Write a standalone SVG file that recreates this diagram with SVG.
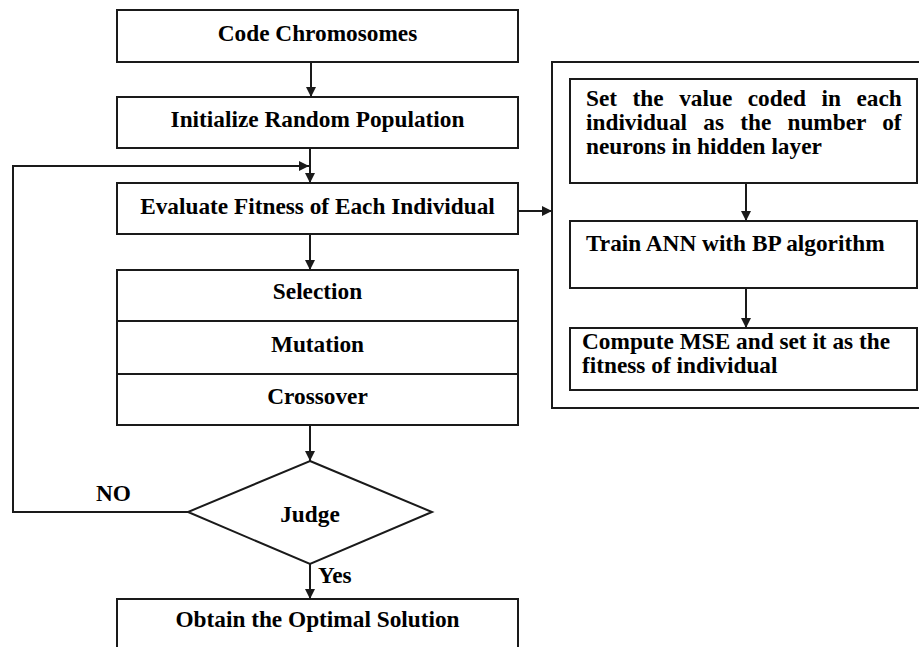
<svg xmlns="http://www.w3.org/2000/svg" width="919" height="647" viewBox="0 0 919 647">
<style>
.box{fill:#fff;stroke:#1a1a1a;stroke-width:2}
.ln{fill:none;stroke:#1a1a1a;stroke-width:2}
.t{font-family:"Liberation Serif","Times New Roman",serif;font-weight:bold;font-size:23.3px;fill:#000}
.c{text-anchor:middle}
</style>
<defs>
<marker id="ah" markerUnits="userSpaceOnUse" markerWidth="10" markerHeight="10" viewBox="0 0 10 10" refX="10" refY="5" orient="auto">
<path d="M0,0 L10,5 L0,10 z" fill="#1a1a1a"/>
</marker>
</defs>
<rect width="919" height="647" fill="#fff"/>
<g id="container">
<rect class="box" x="552" y="62" width="380" height="346"/>
</g>
<g id="code">
<rect class="box" x="117" y="10" width="401" height="52"/>
<text class="t c" x="317.5" y="41">Code Chromosomes</text>
</g>
<g id="init">
<rect class="box" x="117" y="97" width="401" height="51"/>
<text class="t c" x="317.5" y="127">Initialize Random Population</text>
</g>
<g id="evaluate">
<rect class="box" x="117" y="183" width="401" height="51"/>
<text class="t c" x="317.5" y="213.5">Evaluate Fitness of Each Individual</text>
</g>
<g id="selection">
<rect class="box" x="117" y="270" width="401" height="51"/>
<text class="t c" x="317.5" y="298.5">Selection</text>
</g>
<g id="mutation">
<rect class="box" x="117" y="321" width="401" height="53"/>
<text class="t c" x="317.5" y="351.5">Mutation</text>
</g>
<g id="crossover">
<rect class="box" x="117" y="374" width="401" height="51"/>
<text class="t c" x="317.5" y="403.5">Crossover</text>
</g>
<g id="judge">
<polygon class="box" points="310,461 432,512 310,564 188,512"/>
<text class="t c" x="310" y="522">Judge</text>
</g>
<g id="obtain">
<rect class="box" x="117" y="599" width="401" height="70"/>
<text class="t c" x="317.5" y="627">Obtain the Optimal Solution</text>
</g>
<g id="setvalue">
<rect class="box" x="570" y="79" width="347" height="104"/>
<text class="t" x="586" y="106" word-spacing="9.7">Set the value coded in each</text>
<text class="t" x="586" y="130" word-spacing="10.4">individual as the number of</text>
<text class="t" x="586" y="154">neurons in hidden layer</text>
</g>
<g id="train">
<rect class="box" x="570" y="221" width="347" height="67"/>
<text class="t" x="586" y="251">Train ANN with BP algorithm</text>
</g>
<g id="mse">
<rect class="box" x="570" y="328" width="347" height="62"/>
<text class="t" x="582" y="349">Compute MSE and set it as the</text>
<text class="t" x="582" y="373">fitness of individual</text>
</g>
<g id="connectors">
<line class="ln" x1="311" y1="62" x2="311" y2="97" marker-end="url(#ah)"/>
<line class="ln" x1="310" y1="148" x2="310" y2="183" marker-end="url(#ah)"/>
<line class="ln" x1="310" y1="234" x2="310" y2="270" marker-end="url(#ah)"/>
<line class="ln" x1="310" y1="425" x2="310" y2="461" marker-end="url(#ah)"/>
<line class="ln" x1="310" y1="564" x2="310" y2="599" marker-end="url(#ah)"/>
<polyline class="ln" points="188,512 13,512 13,166 309,166" marker-end="url(#ah)"/>
<line class="ln" x1="518" y1="211" x2="552" y2="211" marker-end="url(#ah)"/>
<line class="ln" x1="746" y1="183" x2="746" y2="221" marker-end="url(#ah)"/>
<line class="ln" x1="746" y1="288" x2="746" y2="328" marker-end="url(#ah)"/>
<text class="t" x="96" y="501">NO</text>
<text class="t" x="318" y="583">Yes</text>
</g>
</svg>
